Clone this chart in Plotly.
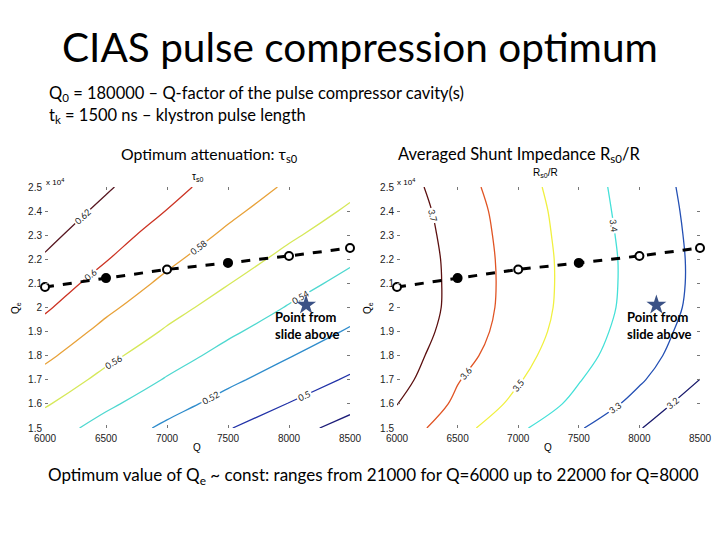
import plotly.graph_objects as go

# ---------------- data ----------------
Q_grid = [6000, 6500, 7000, 7500, 8000, 8500]
Qe_grid = [1.5, 1.6, 1.7, 1.8, 1.9, 2.0, 2.1, 2.2, 2.3, 2.4, 2.5]

# optimum attenuation tau_s0 (rows = Qe, cols = Q)
tau_s0 = [
    [0.5502, 0.5322, 0.5161, 0.5011, 0.4870, 0.4731],
    [0.5619, 0.5438, 0.5276, 0.5130, 0.4994, 0.4856],
    [0.5731, 0.5544, 0.5385, 0.5240, 0.5103, 0.4976],
    [0.5838, 0.5647, 0.5482, 0.5338, 0.5210, 0.5081],
    [0.5934, 0.5746, 0.5578, 0.5431, 0.5299, 0.5182],
    [0.6024, 0.5839, 0.5668, 0.5519, 0.5388, 0.5267],
    [0.6102, 0.5924, 0.5757, 0.5606, 0.5469, 0.5348],
    [0.6180, 0.6009, 0.5840, 0.5686, 0.5549, 0.5427],
    [0.6249, 0.6081, 0.5917, 0.5766, 0.5627, 0.5501],
    [0.6316, 0.6153, 0.5995, 0.5841, 0.5701, 0.5575],
    [0.6383, 0.6222, 0.6063, 0.5911, 0.5774, 0.5645],
]

# averaged shunt impedance Rs0/R (rows = Qe, cols = Q)
rs0_r = [
    [3.6618, 3.5364, 3.4184, 3.3093, 3.2062, 3.0875],
    [3.7020, 3.5812, 3.4742, 3.3723, 3.2663, 3.1413],
    [3.7372, 3.6054, 3.5077, 3.4052, 3.3117, 3.1990],
    [3.7536, 3.6373, 3.5313, 3.4314, 3.3353, 3.2434],
    [3.7723, 3.6572, 3.5488, 3.4479, 3.3517, 3.2597],
    [3.7858, 3.6681, 3.5574, 3.4577, 3.3636, 3.2737],
    [3.7859, 3.6695, 3.5602, 3.4600, 3.3670, 3.2784],
    [3.7835, 3.6674, 3.5589, 3.4597, 3.3670, 3.2784],
    [3.7744, 3.6612, 3.5548, 3.4549, 3.3632, 3.2754],
    [3.7636, 3.6532, 3.5488, 3.4495, 3.3580, 3.2713],
    [3.7489, 3.6394, 3.5374, 3.4428, 3.3531, 3.2651],
]

# optimum Qe path (units of 1e4)
opt_Q = [6000, 6500, 7000, 7500, 8000, 8500]
opt_Qe = [2.085, 2.122, 2.158, 2.185, 2.214, 2.247]
opt_filled = [False, True, False, True, False, False]

star_Q = [8140]
star_Qe = [2.01]

y_ticks = [1.5, 1.6, 1.7, 1.8, 1.9, 2.0, 2.1, 2.2, 2.3, 2.4, 2.5]
y_ticktext = ["1.5", "1.6", "1.7", "1.8", "1.9", "2", "2.1", "2.2", "2.3", "2.4", "2.5"]
x_ticks = [6000, 6500, 7000, 7500, 8000, 8500]

# ---------------- figure ----------------
FONT = "Lato"
OFF = 8  # page body margin in the browser
fig = go.Figure()

left_scale = [
    [0.0, "#1c1c78"], [1/7, "#2233a8"], [2/7, "#2f8ccc"], [3/7, "#4fd8d0"],
    [4/7, "#d6e85a"], [5/7, "#e8a23a"], [6/7, "#cc3424"], [1.0, "#581822"],
]
right_scale = [
    [0.0, "#1a1a6c"], [0.2, "#2450b4"], [0.4, "#44e0d8"],
    [0.6, "#f0f040"], [0.8, "#e05424"], [1.0, "#5c1010"],
]

fig.add_trace(go.Contour(
    x=Q_grid, y=Qe_grid, z=tau_s0, xaxis="x", yaxis="y",
    colorscale=left_scale, zmin=0.48, zmax=0.62, showscale=False,
    contours=dict(start=0.48, end=0.62, size=0.02, coloring="lines",
                  showlabels=True, labelfont=dict(size=9, color="#222", family=FONT),
                  labelformat=".2~f"),
    line=dict(width=1.3), hoverinfo="skip",
))
fig.add_trace(go.Contour(
    x=Q_grid, y=Qe_grid, z=rs0_r, xaxis="x2", yaxis="y2",
    colorscale=right_scale, zmin=3.2, zmax=3.7, showscale=False,
    contours=dict(start=3.2, end=3.7, size=0.1, coloring="lines",
                  showlabels=True, labelfont=dict(size=9, color="#222", family=FONT),
                  labelformat=".1f"),
    line=dict(width=1.3), hoverinfo="skip",
))

marker_colors = ["black" if f else "white" for f in opt_filled]
for xa, ya in (("x", "y"), ("x2", "y2")):
    fig.add_trace(go.Scatter(
        x=opt_Q, y=opt_Qe, xaxis=xa, yaxis=ya, mode="lines+markers",
        line=dict(color="black", width=3, dash="dash"),
        marker=dict(symbol="circle", size=8, color=marker_colors,
                    line=dict(color="black", width=2)),
        showlegend=False, hoverinfo="skip", cliponaxis=False,
    ))
    fig.add_trace(go.Scatter(
        x=star_Q, y=star_Qe, xaxis=xa, yaxis=ya, mode="markers",
        marker=dict(symbol="star", size=15, color="#3b5286"),
        showlegend=False, hoverinfo="skip",
    ))

def px(xp, yp):
    return (xp - OFF) / 720, 1 - (yp - OFF) / 540

ax_common = dict(showgrid=False, zeroline=False, showline=False, automargin=False,
                 ticks="inside", ticklen=3, tickcolor="#777", mirror="ticks",
                 tickfont=dict(size=10, color="#222", family="Liberation Sans"))
ydom = [px(0, 428)[1], px(0, 187)[1]]
fig.update_layout(
    width=720, height=540, autosize=False, margin=dict(l=0, r=0, t=0, b=0, pad=0),
    paper_bgcolor="white", plot_bgcolor="white", showlegend=False,
    xaxis=dict(domain=[px(45, 0)[0], px(350, 0)[0]], range=[6000, 8500], tickvals=x_ticks,
               anchor="y", ticklabelstandoff=3, **ax_common),
    yaxis=dict(domain=ydom, range=[1.5, 2.5], tickvals=y_ticks, ticktext=y_ticktext,
               anchor="x", ticklabelstandoff=2, **ax_common),
    xaxis2=dict(domain=[px(397, 0)[0], px(700, 0)[0]], range=[6000, 8500], tickvals=x_ticks,
                anchor="y2", ticklabelstandoff=3, **ax_common),
    yaxis2=dict(domain=ydom, range=[1.5, 2.5], tickvals=y_ticks, ticktext=y_ticktext,
                anchor="x2", ticklabelstandoff=2, **ax_common),
)

def ann(text, x, y, size, xanchor="left", yanchor="middle", angle=0, color="black",
        xref="paper", yref="paper", align="left", family=FONT):
    fig.add_annotation(text=text, x=x, y=y, xref=xref, yref=yref, showarrow=False,
                       xanchor=xanchor, yanchor=yanchor, textangle=angle, align=align,
                       font=dict(size=size, color=color, family=family))

# slide texts
ann("CIAS pulse compression optimum", *px(360, 47), 40.5, xanchor="center")
ann("Q<sub>0</sub> = 180000 – Q-factor of the pulse compressor cavity(s)", *px(47, 93), 16.5)
ann("t<sub>k</sub> = 1500 ns – klystron pulse length", *px(47, 115), 16.5)
ann("Optimum attenuation: τ<sub>s0</sub>", *px(119, 154), 15.8)
ann("Averaged Shunt Impedance R<sub>s0</sub>/R", *px(396, 154), 16.5)
ann("Optimum value of Q<sub>e</sub> ~ const: ranges from 21000 for Q=6000 up to 22000 for Q=8000",
    *px(46, 476), 17)

# small axis decorations
ann("τ<sub>s0</sub>", *px(197, 177), 10, xanchor="center", family="Liberation Sans")
ann("R<sub>s0</sub>/R", *px(545, 173), 10, xanchor="center", family="Liberation Sans")
ann("x 10<sup>4</sup>", *px(44, 182), 8, family="Liberation Sans")
ann("x 10<sup>4</sup>", *px(395, 182), 8, family="Liberation Sans")
ann("Q", *px(197, 447), 10, xanchor="center", family="Liberation Sans")
ann("Q", *px(548, 447), 10, xanchor="center", family="Liberation Sans")
ann("Q<sub>e</sub>", *px(16, 308), 10, xanchor="center", angle=-90, family="Liberation Sans")
ann("Q<sub>e</sub>", *px(368, 308), 10, xanchor="center", angle=-90, family="Liberation Sans")

# star notes
ann("<b>Point from<br>slide above</b>", 7870, 1.925, 13, xref="x", yref="y")
ann("<b>Point from<br>slide above</b>", 7880, 1.925, 13, xref="x2", yref="y2")

fig.write_html("out.html")
